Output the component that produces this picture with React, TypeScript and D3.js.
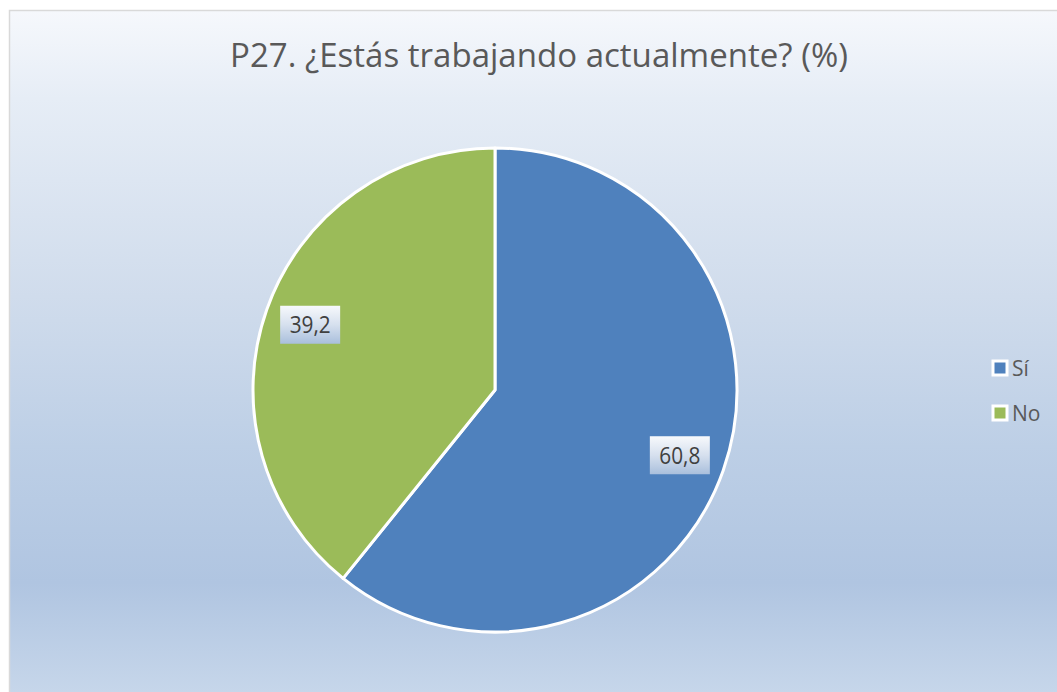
import React from "react";
import * as d3 from "d3";

const title = "P27. ¿Estás trabajando actualmente? (%)";
const categories = ["Sí", "No"];
const values = [60.8, 39.2];
const colors = ["#4f81bd", "#9bbb59"];

const W = 1057;
const H = 692;

export default function App() {
  const cx = 495;
  const cy = 390;
  const r = 242;
  const pie = d3.pie<number>().sort(null).startAngle(0).endAngle(2 * Math.PI);
  const arcs = pie(values);
  const arc = d3.arc<d3.PieArcDatum<number>>().innerRadius(0).outerRadius(r);
  const labelArc = d3.arc<d3.PieArcDatum<number>>().innerRadius(r * 0.81).outerRadius(r * 0.81);
  const fmt = (v: number) => d3.format(".1f")(v).replace(".", ",");
  const font = "Open Sans, Noto Sans, sans-serif";
  const legendY = d3.scalePoint<string>().domain(categories).range([368, 413]);

  return (
    <svg width={W} height={H} style={{ position: "fixed", left: 0, top: 0, background: "#fff" }}>
      <defs>
        <linearGradient id="bg" gradientUnits="userSpaceOnUse" x1="0" y1="10" x2="0" y2="692">
          <stop offset="0" stopColor="#f6f8fc" />
          <stop offset="0.13" stopColor="#e6edf6" />
          <stop offset="0.42" stopColor="#d0dcec" />
          <stop offset="0.64" stopColor="#bdcfe6" />
          <stop offset="0.84" stopColor="#b0c5e1" />
          <stop offset="1" stopColor="#c6d6ea" />
        </linearGradient>
        <linearGradient id="lbl" x1="0" y1="0" x2="0" y2="1">
          <stop offset="0" stopColor="#f7f9fc" />
          <stop offset="0.5" stopColor="#d6e0ee" />
          <stop offset="1" stopColor="#a9bfdc" />
        </linearGradient>
      </defs>
      <rect x={9.5} y={10.5} width={W + 10} height={H + 10} fill="url(#bg)" stroke="#d9d9d9" strokeWidth={1.5} />
      <text x={539} y={67} textAnchor="middle" fontFamily={font} fontSize={33} fill="#595959" textLength={618} lengthAdjust="spacingAndGlyphs">
        {title}
      </text>
      <g transform={`translate(${cx},${cy})`}>
        {arcs.map((a, i) => (
          <path key={i} d={arc(a) || ""} fill={colors[i]} stroke="#fff" strokeWidth={3} strokeLinejoin="round" />
        ))}
        {arcs.map((a, i) => {
          const [lx, ly] = labelArc.centroid(a);
          return (
            <g key={"l" + i} transform={`translate(${lx},${ly})`}>
              <rect x={-30} y={-19} width={60} height={38} fill="url(#lbl)" />
              <text x={0} y={8.5} textAnchor="middle" fontFamily={font} fontSize={23} fill="#404040" textLength={41} lengthAdjust="spacingAndGlyphs">
                {fmt(values[i])}
              </text>
            </g>
          );
        })}
      </g>
      {categories.map((c, i) => {
        const y = legendY(c) as number;
        return (
          <g key={c}>
            <rect x={993} y={y - 7} width={14} height={14} fill={colors[i]} stroke="#fff" strokeWidth={3} />
            <text x={1012} y={y + 7.5} fontFamily={font} fontSize={21} fill="#595959">
              {c}
            </text>
          </g>
        );
      })}
    </svg>
  );
}
